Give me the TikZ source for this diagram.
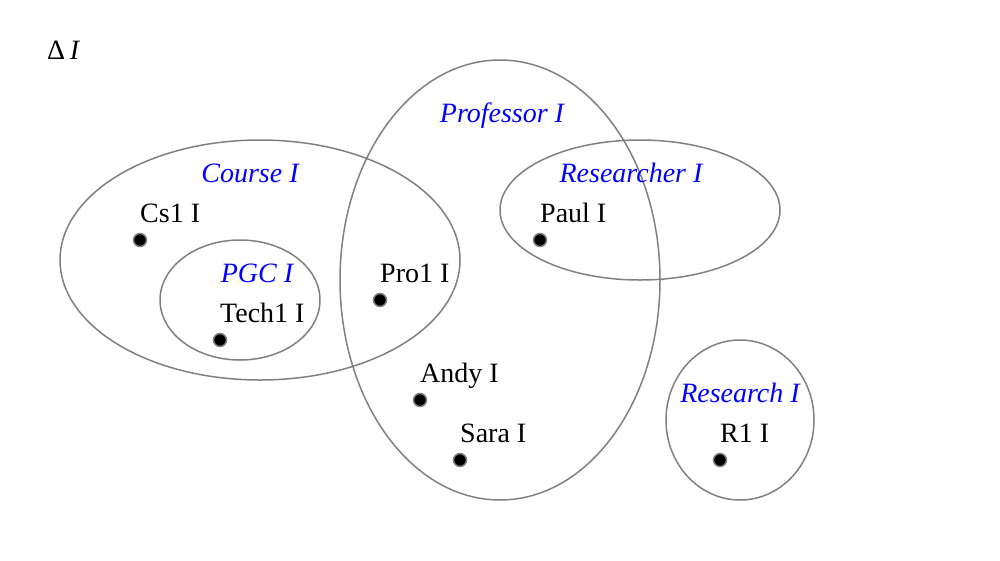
\documentclass[tikz,border=0pt]{standalone}
\usepackage{fontspec}
\setmainfont{Liberation Serif}
\begin{document}
\begin{tikzpicture}[x=1pt,y=-1pt,
  setring/.style={draw=gray,line width=1.5pt},
  setlabel/.style={text=blue,font=\fontsize{28}{32}\selectfont\itshape,inner sep=0pt},
  elem/.style={circle,fill=black,draw=gray,line width=1.5pt,minimum size=13pt,inner sep=0pt},
  elemlabel/.style={anchor=base west,font=\fontsize{28}{32}\selectfont,inner sep=0pt}]
\useasboundingbox (0,0) rectangle (1000,560);
\node[anchor=base west,inner sep=0pt,font=\fontsize{28}{32}\selectfont] (delta) at (47,59) {Δ\,\textit{I}};
% sets
\draw[setring] (260,260) ellipse [x radius=200,y radius=120];
\draw[setring] (240,300) ellipse [x radius=80,y radius=60];
\draw[setring] (500,280) ellipse [x radius=160,y radius=220];
\draw[setring] (640,210) ellipse [x radius=140,y radius=70];
\draw[setring] (740,420) ellipse [x radius=74,y radius=80];
\node[setlabel] (course) at (250,173) {Course I};
\node[setlabel] (pgc) at (257,273) {PGC I};
\node[setlabel,anchor=base] (prof) at (502,122) {Professor I};
\node[setlabel] (researcher) at (631,173) {Researcher I};
\node[setlabel] (research) at (740,393) {Research I};
% elements
\foreach \n/\x/\y/\t in {cs/140/240/Cs1 I, tech/220/340/Tech1 I, pro/380/300/Pro1 I, paul/540/240/Paul I, andy/420/400/Andy I, sara/460/460/Sara I, rone/720/460/R1 I}{
  \node[elem] (\n) at (\x,\y) {};
  \node[elemlabel] (\n l) at (\x,\y-18) {\t};
}
\end{tikzpicture}
\end{document}
